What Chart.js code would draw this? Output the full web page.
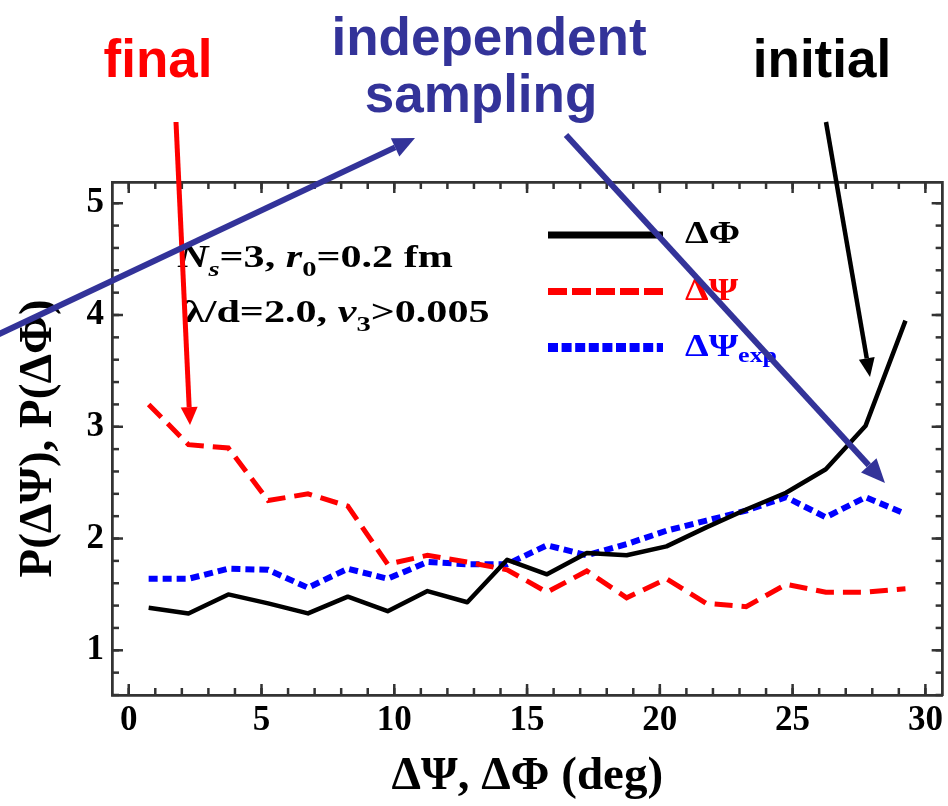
<!DOCTYPE html>
<html>
<head>
<meta charset="utf-8">
<script src="https://cdn.jsdelivr.net/npm/chart.js@4.4.1/dist/chart.umd.min.js"></script>
<style>
  html, body { margin: 0; padding: 0; background: #fff; }
</style>
</head>
<body>
<canvas id="chart" width="948" height="806"></canvas>
<script>
// angle bins (deg), 1.5 deg wide
const angleBins = [0.75, 2.25, 3.75, 5.25, 6.75, 8.25, 9.75, 11.25, 12.75, 14.25,
                   15.75, 17.25, 18.75, 20.25, 21.75, 23.25, 24.75, 26.25, 27.75, 29.25];

// P(dPhi) - initial
const pDeltaPhi = [1.38, 1.33, 1.50, 1.42, 1.33, 1.48, 1.35, 1.53, 1.43, 1.81,
                   1.68, 1.87, 1.85, 1.93, 2.10, 2.26, 2.41, 2.62, 3.01, 3.95];
// P(dPsi) - final
const pDeltaPsi = [3.20, 2.84, 2.81, 2.34, 2.40, 2.29, 1.77, 1.85, 1.79, 1.72,
                   1.52, 1.71, 1.47, 1.64, 1.42, 1.39, 1.59, 1.52, 1.52, 1.55];
// P(dPsi_exp) - independent sampling
const pDeltaPsiExp = [1.64, 1.64, 1.73, 1.72, 1.56, 1.73, 1.64, 1.79, 1.77, 1.77,
                      1.94, 1.85, 1.95, 2.07, 2.16, 2.25, 2.37, 2.19, 2.37, 2.22];

const xRange = [-0.63, 30.65];
const yRange = [0.6, 5.19];
const xStepMajor = 5, xStepMinor = 1;
const yStepMajor = 1, yStepMinor = 0.2;

const frameColor = '#333333';
const serif = '"Liberation Serif", "Times New Roman", serif';
const sans = '"Liberation Sans", Arial, sans-serif';

// inward tick length per axis id
const innerTickLen = { x: 11, xMinor: 7, xTop: 11, xTopMinor: 7, y: 11, yMinor: 7, yRight: 11, yRightMinor: 7 };

const toPoints = vals => vals.map((v, i) => ({ x: angleBins[i], y: v }));

function tickAxis(pos, range, step, weight, size, extra) {
  const horiz = pos === 'top' || pos === 'bottom';
  return Object.assign({
    type: 'linear',
    position: pos,
    min: range[0],
    max: range[1],
    weight: weight,
    border: { display: true, color: frameColor, width: 2.5 },
    grid: { drawOnChartArea: false, drawTicks: false, tickLength: 0 },
    ticks: { display: false, stepSize: step, includeBounds: false, autoSkip: false },
    afterFit: s => { if (horiz) s.height = size; else s.width = size; }
  }, extra || {});
}

// tick marks pointing into the frame, placed by each scale
const innerTicks = {
  id: 'innerTicks',
  afterDatasetsDraw(chart) {
    const ctx = chart.ctx, a = chart.chartArea;
    ctx.save();
    ctx.strokeStyle = frameColor;
    ctx.lineWidth = 2.5;
    ctx.lineCap = 'butt';
    Object.keys(innerTickLen).forEach(id => {
      const s = chart.scales[id];
      const len = innerTickLen[id];
      s.ticks.forEach(t => {
        const p = s.getPixelForValue(t.value);
        ctx.beginPath();
        if (s.position === 'bottom') { ctx.moveTo(p, a.bottom); ctx.lineTo(p, a.bottom - len); }
        else if (s.position === 'top') { ctx.moveTo(p, a.top); ctx.lineTo(p, a.top + len); }
        else if (s.position === 'left') { ctx.moveTo(a.left, p); ctx.lineTo(a.left + len, p); }
        else { ctx.moveTo(a.right, p); ctx.lineTo(a.right - len, p); }
        ctx.stroke();
      });
    });
    ctx.restore();
  }
};

// legend + text + arrows drawn on top of the plot
const overlay = {
  id: 'overlay',
  afterDraw(chart) {
    const ctx = chart.ctx;
    ctx.save();

    // legend inside the frame
    const items = [
      { ds: 0, y: 235, w: 7, dash: [], parts: [{ t: 'ΔΦ' }] },
      { ds: 1, y: 291.5, w: 7, dash: [19, 5], parts: [{ t: 'ΔΨ' }] },
      { ds: 2, y: 347.5, w: 9, dash: [10, 3.6], parts: [{ t: 'ΔΨ' }, { t: 'exp', sub: true }] }
    ];
    items.forEach(it => {
      const ds = chart.data.datasets[it.ds];
      ctx.strokeStyle = ds.borderColor;
      ctx.lineWidth = it.w;
      ctx.lineCap = 'butt';
      ctx.setLineDash(it.dash);
      ctx.beginPath();
      ctx.moveTo(548, it.y);
      ctx.lineTo(663, it.y);
      ctx.stroke();
      ctx.setLineDash([]);
      ctx.textBaseline = 'middle';
      richText(ctx, 685, it.y, it.parts, 32, 1.18, ds.borderColor);
    });

    // parameters
    ctx.textBaseline = 'alphabetic';
    richText(ctx, 178, 267, [
      { t: 'N', it: true }, { t: 's', it: true, sub: true }, { t: '=3, ' },
      { t: 'r', it: true }, { t: '0', sub: true }, { t: '=0.2 fm' }
    ], 31, 1.36, '#000');
    richText(ctx, 184, 322, [
      { t: 'λ/d=2.0, ' }, { t: 'v', it: true }, { t: '3', sub: true }, { t: '>0.005' }
    ], 31, 1.36, '#000');

    // headings
    ctx.font = 'bold 53px ' + sans;
    ctx.textAlign = 'center';
    ctx.fillStyle = '#ff0000';
    ctx.fillText('final', 158, 77);
    ctx.fillStyle = '#000000';
    ctx.fillText('initial', 822, 77);
    ctx.fillStyle = '#333399';
    ctx.fillText('independent', 489, 55);
    ctx.fillText('sampling', 481, 112);

    // arrows
    arrow(ctx, 176, 122, 190, 425, '#ff0000', 5, 18, 17);
    arrow(ctx, -5, 336, 415, 138, '#333399', 6, 22, 20);
    arrow(ctx, 566, 135, 885, 483, '#333399', 6, 24, 21);
    arrow(ctx, 826, 122, 870, 377, '#000000', 4.5, 19, 16);

    ctx.restore();
  }
};

// text runs with italics / subscripts, stretched horizontally by sx
function richText(ctx, x, y, parts, size, sx, color) {
  ctx.save();
  ctx.translate(x, y);
  ctx.scale(sx, 1);
  let cx = 0;
  ctx.textAlign = 'left';
  ctx.fillStyle = color;
  parts.forEach(p => {
    const s = p.sub ? Math.round(size * 0.68) : size;
    ctx.font = (p.it ? 'italic ' : '') + 'bold ' + s + 'px ' + serif;
    ctx.fillText(p.t, cx, p.sub ? size * 0.28 : 0);
    cx += ctx.measureText(p.t).width;
  });
  ctx.restore();
}

function arrow(ctx, x1, y1, x2, y2, color, w, headLen, headW) {
  const a = Math.atan2(y2 - y1, x2 - x1);
  const bx = x2 - headLen * Math.cos(a), by = y2 - headLen * Math.sin(a);
  ctx.setLineDash([]);
  ctx.strokeStyle = color;
  ctx.lineWidth = w;
  ctx.lineCap = 'butt';
  ctx.beginPath();
  ctx.moveTo(x1, y1);
  ctx.lineTo(bx, by);
  ctx.stroke();
  ctx.fillStyle = color;
  ctx.beginPath();
  ctx.moveTo(x2, y2);
  ctx.lineTo(bx + headW / 2 * Math.sin(a), by - headW / 2 * Math.cos(a));
  ctx.lineTo(bx - headW / 2 * Math.sin(a), by + headW / 2 * Math.cos(a));
  ctx.closePath();
  ctx.fill();
}

const chart = new Chart(document.getElementById('chart').getContext('2d'), {
  type: 'line',
  data: {
    datasets: [
      {
        label: 'ΔΦ',
        data: toPoints(pDeltaPhi),
        borderColor: '#000000',
        borderWidth: 4.5,
        borderJoinStyle: 'round',
        pointRadius: 0,
        tension: 0,
        fill: false
      },
      {
        label: 'ΔΨ',
        data: toPoints(pDeltaPsi),
        borderColor: '#ff0000',
        borderWidth: 5,
        borderDash: [18, 9],
        pointRadius: 0,
        tension: 0,
        fill: false
      },
      {
        label: 'ΔΨexp',
        data: toPoints(pDeltaPsiExp),
        borderColor: '#0000ff',
        borderWidth: 6,
        borderDash: [9, 5],
        pointRadius: 0,
        tension: 0,
        fill: false
      }
    ]
  },
  options: {
    responsive: false,
    animation: false,
    layout: { padding: { left: 0, top: 182, right: 5, bottom: 0 } },
    plugins: { legend: { display: false }, tooltip: { enabled: false } },
    scales: {
      x: tickAxis('bottom', xRange, xStepMajor, 1, 111, {
        ticks: { display: true, stepSize: xStepMajor, includeBounds: false, autoSkip: false, maxRotation: 0,
                 padding: 5, color: '#000', font: { family: serif, size: 35, weight: 'bold' } },
        title: { display: true, text: 'ΔΨ, ΔΦ (deg)', color: '#000', padding: { top: 0, bottom: 1 },
                 font: { family: serif, size: 47, weight: 'bold', lineHeight: 1.2 } }
      }),
      xMinor: tickAxis('bottom', xRange, xStepMinor, 0, 0),
      xTop: tickAxis('top', xRange, xStepMajor, 1, 0),
      xTopMinor: tickAxis('top', xRange, xStepMinor, 0, 0),
      y: tickAxis('left', yRange, yStepMajor, 1, 112, {
        ticks: { display: true, stepSize: yStepMajor, includeBounds: false, autoSkip: false,
                 padding: 8, color: '#000', font: { family: serif, size: 35, weight: 'bold' } },
        title: { display: true, text: 'P(ΔΨ), P(ΔΦ)', color: '#000', padding: { top: 11, bottom: 0 },
                 font: { family: serif, size: 47, weight: 'bold', lineHeight: 1.2 } }
      }),
      yMinor: tickAxis('left', yRange, yStepMinor, 0, 0),
      yRight: tickAxis('right', yRange, yStepMajor, 1, 0),
      yRightMinor: tickAxis('right', yRange, yStepMinor, 0, 0)
    }
  },
  plugins: [innerTicks, overlay]
});
</script>
</body>
</html>
